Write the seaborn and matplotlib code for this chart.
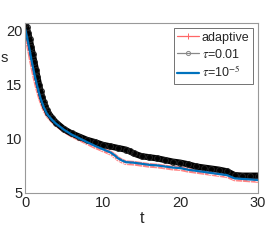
import numpy as np
import pandas as pd
import matplotlib
matplotlib.use("Agg")
import matplotlib.pyplot as plt
from matplotlib.lines import Line2D
import seaborn as sns

sns.set_style("white")
plt.rcParams["font.family"] = ["Liberation Sans", "DejaVu Sans"]
plt.rcParams["mathtext.fontset"] = "stix"

# ----- data -----
t_ad = [0, 0.2, 0.4, 0.6, 0.8, 1.0, 1.2, 1.4, 1.6, 1.8, 2.0, 2.2, 2.4, 2.6, 2.8, 3.0,
        3.5, 4, 5, 6, 7, 8, 9, 10, 11, 11.5, 12, 12.5, 13, 14, 15, 16, 17, 18, 19, 20,
        21, 22, 23, 24, 25, 26, 27, 28, 29, 30]
s_ad = [20.1, 19.5, 18.8, 18.1, 17.3, 16.6, 15.9, 15.3, 14.7, 14.2, 13.7, 13.3, 12.9,
        12.6, 12.3, 12.1, 11.7, 11.35, 10.8, 10.35, 10.0, 9.65, 9.3, 9.0, 8.7, 8.45,
        8.15, 7.95, 7.8, 7.75, 7.65, 7.55, 7.5, 7.4, 7.3, 7.25, 7.1, 7.0, 6.9, 6.8,
        6.7, 6.6, 6.3, 6.25, 6.2, 6.15]

t_big = [0, 0.2, 0.4, 0.6, 0.8, 1.0, 1.2, 1.4, 1.6, 1.8, 2.0, 2.2, 2.4, 2.6, 2.8, 3.0,
         3.5, 4, 5, 6, 7, 8, 9, 10, 11, 12, 13, 13.5, 14, 15, 16, 17, 18, 19, 20,
         21, 22, 23, 24, 25, 26, 27, 28, 29, 30]
s_big = [20.6, 20.3, 19.8, 19.2, 18.5, 17.8, 17.1, 16.4, 15.7, 15.0, 14.4, 13.9, 13.4,
         13.0, 12.7, 12.4, 11.9, 11.5, 10.9, 10.5, 10.2, 9.9, 9.7, 9.45, 9.3, 9.15,
         9.0, 8.85, 8.65, 8.4, 8.3, 8.2, 8.05, 7.9, 7.8, 7.65, 7.45, 7.35, 7.25, 7.15,
         7.0, 6.65, 6.6, 6.6, 6.6]

t_small = [0, 0.2, 0.4, 0.6, 0.8, 1.0, 1.2, 1.4, 1.6, 1.8, 2.0, 2.2, 2.4, 2.6, 2.8,
           3.0, 3.5, 4, 5, 6, 7, 8, 9, 10, 11, 11.5, 12, 12.5, 13, 14, 15, 16, 17, 18,
           19, 20, 21, 22, 23, 24, 25, 26, 27, 28, 29, 30]
s_small = [20.2, 19.6, 18.9, 18.2, 17.4, 16.7, 16.0, 15.4, 14.8, 14.25, 13.75, 13.35,
           12.95, 12.65, 12.35, 12.15, 11.75, 11.4, 10.85, 10.4, 10.05, 9.7, 9.35, 9.05,
           8.75, 8.5, 8.2, 8.0, 7.85, 7.8, 7.7, 7.6, 7.55, 7.45, 7.35, 7.3, 7.15, 7.05,
           6.95, 6.85, 6.75, 6.65, 6.35, 6.3, 6.25, 6.2]

xticks = [0, 10, 20, 30]
yticks = [5, 10, 15, 20]
labels = ["adaptive", r"$\tau$=0.01", r"$\tau$=10$^{-5}$"]

# ----- figure -----
fig = plt.figure(figsize=(2.69, 2.44), dpi=100)
ax = fig.add_axes([25 / 269, 1 - 193 / 244, 233 / 269, 170 / 244])

sns.lineplot(x=t_ad, y=s_ad, ax=ax, color="#ff5a5a", alpha=0.75, linewidth=3.4,
             marker="+", markersize=4, markeredgewidth=0.8, sort=False)
sns.lineplot(x=t_big, y=s_big, ax=ax, color="black", linewidth=4.5,
             marker="o", markersize=4.2, markerfacecolor="none",
             markeredgecolor="#222222", markeredgewidth=0.7, sort=False)
sns.lineplot(x=t_small, y=s_small, ax=ax, color="#0072bd", linewidth=1.6,
             sort=False)

ax.set_xlim(0, 30)
ax.set_ylim(5, 20.7)
ax.set_xticks(xticks)
ax.set_yticks(yticks)
ax.tick_params(direction="in", length=2.5, colors="#999999", labelcolor="#262626",
               labelsize=10.5, pad=2)
for sp in ax.spines.values():
    sp.set_color("#999999")
    sp.set_linewidth(0.8)
ax.set_xlabel("t", fontsize=11.5, color="#262626", labelpad=1)

# y label sitting at the left edge
fig.text(4 / 269, 1 - 58 / 244, "s", fontsize=10.5, color="#262626",
         ha="center", va="center")

# legend with thin line samples like the reference
handles = [
    Line2D([], [], color="#ff6666", lw=0.9, marker="+", markersize=4,
           markeredgewidth=0.7),
    Line2D([], [], color="#888888", lw=0.9, marker="o", markersize=3,
           markerfacecolor="none", markeredgewidth=0.7),
    Line2D([], [], color="#0072bd", lw=1.6),
]
leg = ax.legend(handles, labels, loc="upper right", fontsize=9, frameon=True,
                fancybox=False, borderpad=0.3, handlelength=1.7,
                handletextpad=0.25, labelspacing=0.3, borderaxespad=0.4)
leg.get_frame().set_edgecolor("#333333")
leg.get_frame().set_linewidth(0.6)

fig.savefig("out.png", dpi=100)
